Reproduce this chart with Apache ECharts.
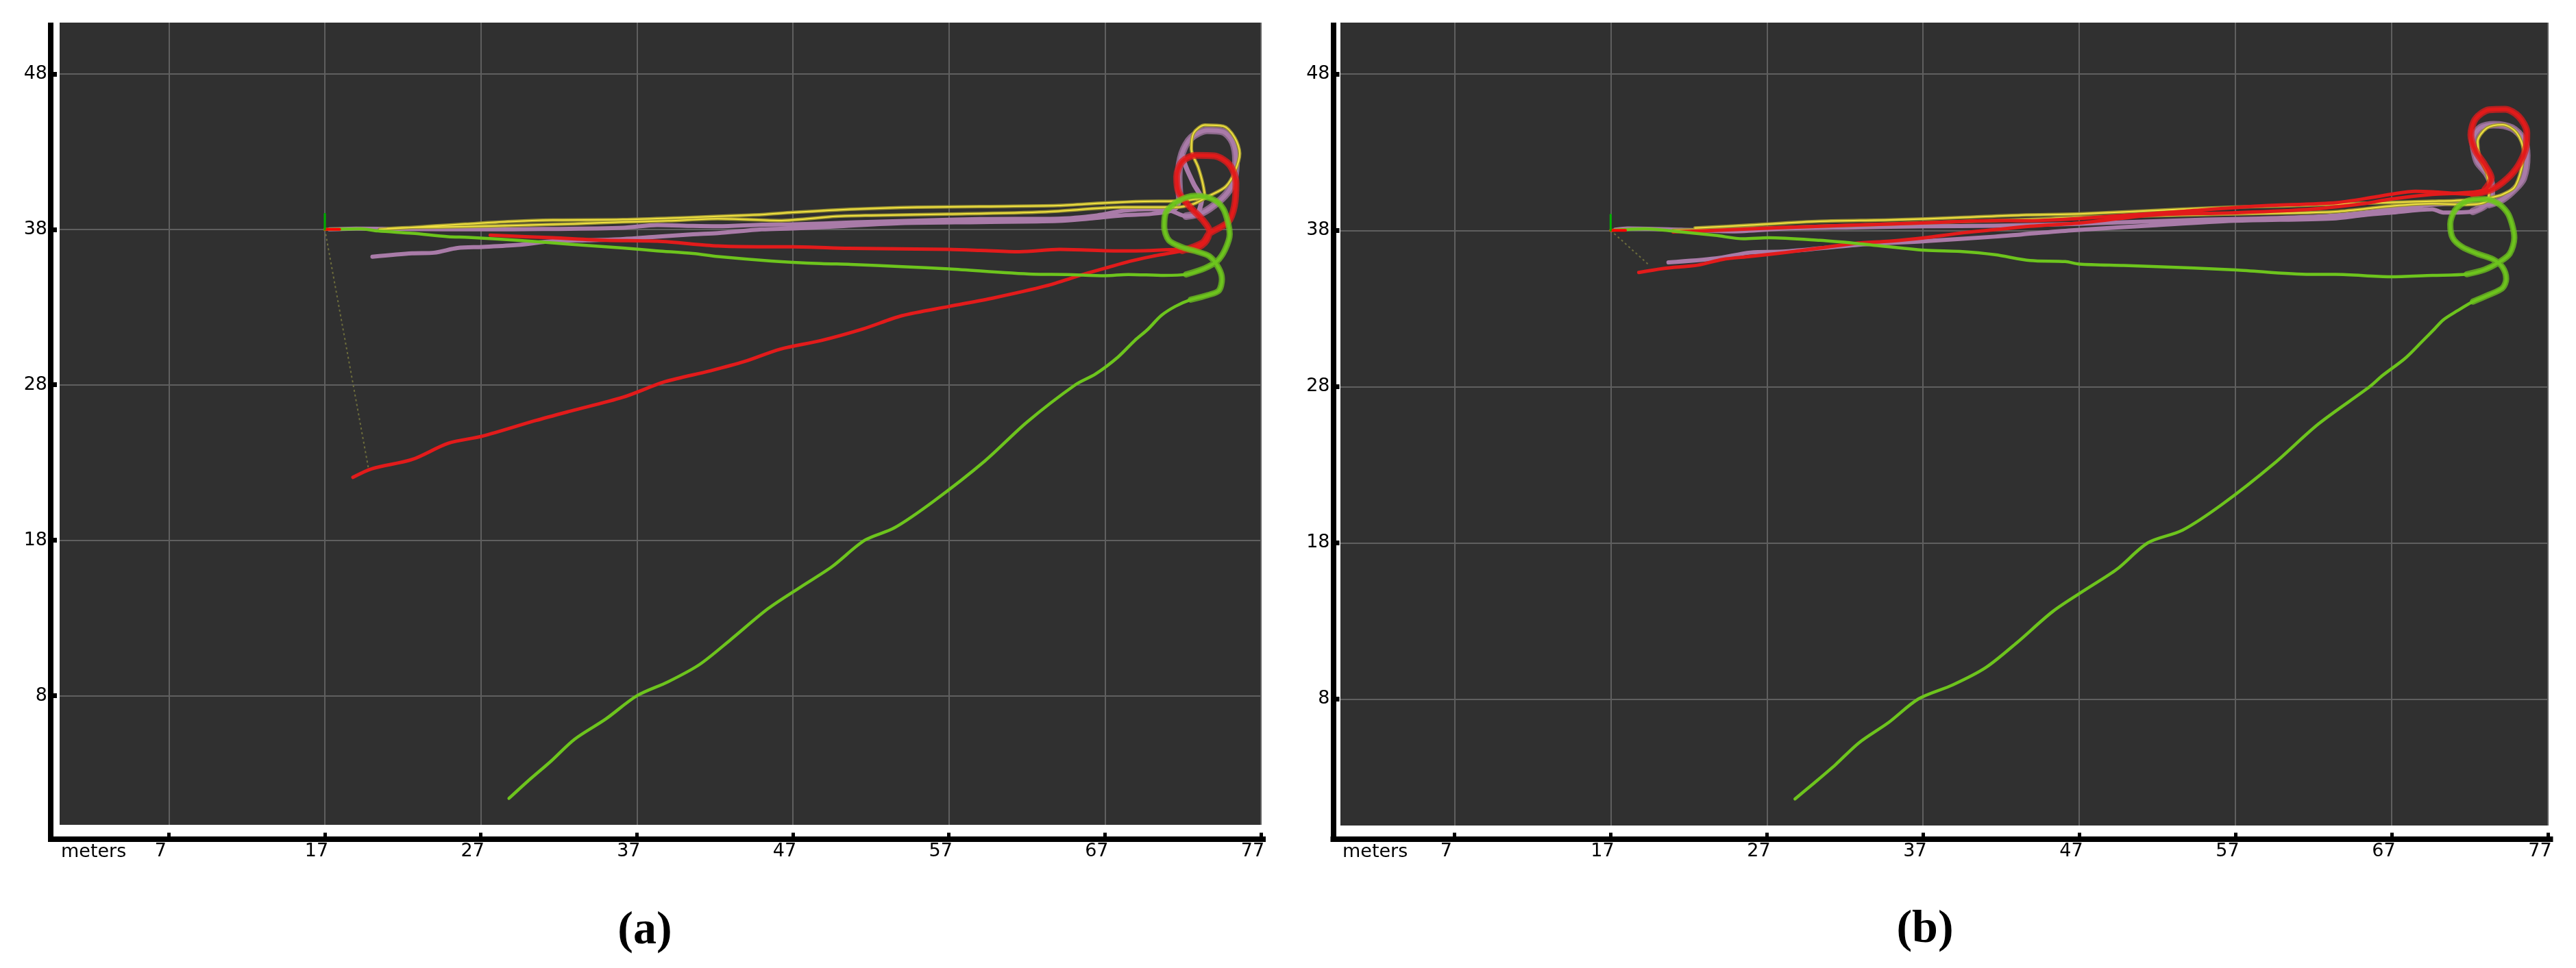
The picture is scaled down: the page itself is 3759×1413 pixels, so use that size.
<!DOCTYPE html>
<html>
<head>
<meta charset="utf-8">
<title>trajectories</title>
<script src="https://cdn.jsdelivr.net/npm/echarts@6.0.0/dist/echarts.min.js"></script>
<style>
  html, body { margin: 0; padding: 0; background: #fff; }
  #chart { width: 3759px; height: 1413px; }
</style>
</head>
<body>
<div id="chart"></div>
<script>
// tick values of both panels (meters)
const xTicks = [7, 17, 27, 37, 47, 57, 67, 77];
const yTicks = [8, 18, 28, 38, 48];

// ---- panel (a) paths, [x, y] in meters ----
const aYellow = [
  [20.5, 38.0], [22.2, 38.1], [24.0, 38.22], [26.0, 38.34], [28.7, 38.5], [31.6, 38.6], [36.1, 38.63],
  [40.6, 38.78], [42.2, 38.84], [45.0, 38.95], [47.0, 39.09], [51.0, 39.3], [55.0, 39.42], [59.0, 39.47],
  [64.0, 39.53], [67.0, 39.7], [69.5, 39.8], [71.5, 39.82], [72.8, 39.95], [73.4, 40.1],
  [73.27, 40.97], [72.98, 41.99], [72.54, 43.17], [72.69, 44.2], [73.42, 44.71], [74.59, 44.64],
  [75.32, 43.9], [75.64, 42.88], [75.32, 41.7], [74.74, 40.75], [73.7, 40.16], [72.69, 39.64], [71.5, 39.42],
  [68.2, 39.42], [63.2, 39.13], [57.0, 38.98], [52.0, 38.9], [49.8, 38.84], [46.1, 38.57], [42.2, 38.69],
  [39.0, 38.55], [36.1, 38.48], [33.0, 38.36], [29.35, 38.26], [26.0, 38.18], [22.6, 38.12], [21.0, 38.05]
];
const aPurple = [
  [17.3, 38.0], [19.0, 38.05], [22.0, 38.02], [27.1, 38.0], [31.0, 38.02], [36.1, 38.1], [38.3, 38.28],
  [40.6, 38.22], [42.2, 38.2], [45.0, 38.3], [47.0, 38.32], [51.0, 38.45], [55.0, 38.57], [59.0, 38.66],
  [64.0, 38.69], [66.5, 38.9], [68.2, 39.2], [70.0, 39.3], [71.2, 39.2], [72.2, 38.85],
  [73.3, 39.1], [74.3, 39.8], [74.95, 40.5], [75.3, 41.3], [75.4, 42.43], [75.2, 43.6], [74.6, 44.27],
  [73.56, 44.37], [72.54, 43.9], [71.95, 42.9], [71.73, 41.4], [71.8, 40.0], [71.5, 39.3],
  [70.0, 39.0], [68.2, 38.91], [66.0, 38.7], [64.0, 38.54], [59.0, 38.47], [53.9, 38.4], [50.0, 38.2],
  [47.0, 38.06], [45.0, 38.0], [42.2, 37.76], [40.6, 37.68], [38.3, 37.53], [36.1, 37.38], [33.8, 37.3],
  [31.6, 37.24], [29.35, 37.0], [27.1, 36.87], [25.5, 36.8], [24.0, 36.5], [22.6, 36.46], [20.05, 36.24]
];
const aPurpleCross = [[71.95, 42.8], [72.2, 42.0], [72.7, 40.9], [73.2, 39.9], [73.0, 39.1]];
const aRed = [
  [18.8, 22.05], [20.0, 22.6], [22.6, 23.2], [24.9, 24.24], [27.1, 24.7], [30.5, 25.7], [32.7, 26.3],
  [36.1, 27.2], [38.8, 28.2], [41.7, 28.9], [43.9, 29.5], [46.2, 30.3], [48.8, 30.85], [51.5, 31.6],
  [54.0, 32.45], [57.0, 33.04], [59.9, 33.6], [63.2, 34.36], [65.6, 35.1], [67.1, 35.53], [68.6, 35.95],
  [70.05, 36.27], [71.95, 36.63], [73.27, 37.15], [73.7, 37.74],
  [74.9, 38.47], [75.3, 39.5], [75.4, 40.97], [75.0, 42.14], [74.0, 42.73], [72.83, 42.76], [71.95, 42.36],
  [71.6, 41.4], [71.73, 40.38], [72.4, 39.5], [73.27, 38.6], [73.7, 37.88], [73.4, 37.15], [72.54, 36.7], [71.66, 36.7],
  [69.0, 36.62], [67.0, 36.63], [64.1, 36.71], [61.5, 36.56], [59.0, 36.65], [57.0, 36.71], [50.6, 36.78],
  [47.0, 36.88], [44.7, 36.88], [42.2, 36.93], [38.3, 37.24], [35.0, 37.3], [31.6, 37.46], [27.6, 37.63]
];
const aGreen = [
  [17.0, 38.0], [19.3, 38.04], [20.4, 37.9], [22.6, 37.75], [24.9, 37.53], [26.2, 37.49], [29.35, 37.3],
  [32.7, 37.05], [36.1, 36.8], [38.3, 36.62], [40.6, 36.45], [42.2, 36.25], [45.6, 35.97], [48.8, 35.8],
  [50.7, 35.75], [54.0, 35.6], [57.0, 35.46], [62.4, 35.12], [64.5, 35.1], [67.0, 35.02], [68.5, 35.1],
  [70.8, 35.04], [72.2, 35.1], [73.4, 35.5], [74.2, 35.97], [74.7, 36.7], [75.0, 37.7], [74.9, 38.4],
  [74.6, 39.3], [74.0, 39.9], [72.8, 40.16], [71.66, 39.8], [70.9, 39.06], [70.8, 38.18], [71.1, 37.3],
  [71.95, 36.85], [72.8, 36.6], [73.7, 36.27], [74.3, 35.5], [74.5, 34.8], [74.3, 34.06], [73.6, 33.77],
  [72.5, 33.48], [71.5, 33.04], [70.6, 32.45], [69.75, 31.57], [68.9, 30.84], [67.85, 29.8], [66.4, 28.7],
  [65.1, 28.0], [62.0, 25.6], [59.3, 23.1], [56.0, 20.5], [53.5, 18.8], [51.6, 18.0], [49.5, 16.3],
  [47.5, 15.0], [45.4, 13.6], [43.0, 11.6], [41.0, 10.0], [39.0, 8.9], [37.0, 8.0], [35.0, 6.5],
  [33.0, 5.2], [31.5, 3.8], [30.0, 2.5], [28.8, 1.4]
];
const aLink = [[17.0, 38.0], [19.8, 22.6]];

// ---- panel (b) paths ----
const bYellow = [
  [22.4, 38.15], [25.95, 38.34], [30.4, 38.58], [34.9, 38.67], [39.37, 38.82], [43.3, 38.98], [47.0, 39.05],
  [53.4, 39.35], [57.0, 39.49], [60.1, 39.56], [64.3, 39.71], [69.6, 39.86], [71.0, 39.9], [72.8, 40.0], [73.8, 40.2],
  [74.1, 40.3], [74.85, 40.75], [75.3, 41.92], [75.43, 43.09], [74.99, 44.26], [74.1, 44.77], [73.09, 44.55],
  [72.5, 43.67], [72.65, 42.65], [73.09, 41.63], [73.24, 40.6], [73.09, 39.87],
  [71.8, 39.65], [69.6, 39.71], [67.0, 39.56], [63.4, 39.2], [57.0, 39.05], [47.0, 38.83], [43.85, 38.7],
  [39.37, 38.56], [34.9, 38.41], [30.4, 38.26], [25.95, 38.12], [21.0, 38.0]
];
const bPurple = [
  [17.3, 38.05], [18.1, 38.12], [21.5, 38.04], [24.8, 37.94], [28.2, 38.12], [32.66, 38.19], [37.13, 38.26],
  [41.6, 38.3], [46.1, 38.4], [48.4, 38.47], [55.1, 38.69], [58.5, 38.76], [62.6, 38.9], [65.2, 39.13],
  [66.9, 39.35], [69.6, 39.64], [71.5, 39.7],
  [73.24, 39.65], [74.12, 40.0], [74.85, 40.6], [75.43, 41.33], [75.65, 42.8], [75.43, 43.82], [74.7, 44.55],
  [73.53, 44.77], [72.65, 44.55], [72.2, 43.82], [72.29, 43.09], [72.5, 42.36], [73.09, 41.63], [73.38, 40.9],
  [73.38, 40.16], [72.95, 39.58], [72.2, 39.21],
  [70.3, 39.14], [69.6, 39.35], [66.9, 39.13], [65.2, 38.98], [63.2, 38.76], [56.9, 38.61], [51.7, 38.32],
  [46.5, 38.0], [43.3, 37.74], [41.6, 37.6], [37.13, 37.31], [32.66, 37.06], [28.2, 36.65], [25.95, 36.58],
  [23.7, 36.2], [20.7, 35.95]
];
const bRed = [
  [18.8, 35.3], [20.36, 35.56], [22.6, 35.78], [24.16, 36.14], [25.95, 36.33], [28.2, 36.58], [30.4, 36.87],
  [32.66, 37.17], [34.9, 37.31], [37.13, 37.53], [39.37, 37.82], [41.6, 38.04], [43.85, 38.26], [47.0, 38.47],
  [51.7, 38.98], [57.0, 39.13], [61.8, 39.35], [65.2, 39.71], [66.9, 40.0], [69.6, 40.3], [71.5, 40.4],
  [72.95, 40.6], [73.38, 41.33], [72.95, 42.21], [72.36, 43.09], [72.07, 44.11], [72.36, 45.13], [73.24, 45.72],
  [74.26, 45.75], [75.14, 45.28], [75.65, 44.26], [75.58, 43.23], [75.14, 42.21], [74.41, 41.33], [73.38, 40.6],
  [72.2, 40.31],
  [69.6, 40.47], [68.5, 40.5], [66.9, 40.3], [66.0, 40.15], [63.5, 39.78], [58.5, 39.56], [53.4, 39.2],
  [47.0, 38.76], [43.3, 38.61], [41.6, 38.63], [37.13, 38.48], [32.66, 38.34], [28.2, 38.19], [24.8, 38.04], [21.0, 37.9]
];
const bGreen = [
  [17.0, 38.0], [19.2, 38.1], [21.5, 37.9], [23.7, 37.68], [25.5, 37.46], [27.1, 37.53], [30.4, 37.36],
  [32.66, 37.17], [37.13, 36.73], [39.37, 36.65], [41.6, 36.44], [43.85, 36.07], [46.1, 36.0], [47.0, 35.84],
  [49.84, 35.75], [51.7, 35.69], [57.0, 35.47], [61.8, 35.18], [63.4, 35.18], [66.9, 35.03], [69.6, 35.12],
  [71.8, 35.19], [72.95, 35.49], [73.8, 35.92], [74.55, 36.5], [74.85, 37.53], [74.7, 38.4], [74.4, 39.14],
  [73.8, 39.73], [72.95, 40.0], [71.8, 39.87], [71.05, 39.29], [70.75, 38.41], [70.9, 37.53], [71.5, 36.95],
  [72.5, 36.5], [73.5, 36.14], [74.1, 35.63], [74.33, 34.9], [74.1, 34.32], [73.24, 33.88], [72.2, 33.44],
  [71.2, 32.85], [70.3, 32.27], [69.73, 31.68], [68.9, 30.84], [67.85, 29.8], [66.4, 28.7], [65.6, 28.0],
  [62.3, 25.6], [59.5, 23.1], [56.2, 20.5], [53.6, 18.8], [51.4, 18.0], [49.4, 16.3], [47.4, 15.0],
  [45.3, 13.6], [43.0, 11.6], [41.0, 10.0], [38.9, 8.9], [36.7, 8.0], [34.8, 6.5], [32.9, 5.2],
  [31.4, 3.8], [30.0, 2.6], [28.8, 1.6]
];
const bLink = [[17.0, 38.0], [19.46, 35.78]];

// start frame marker (1 m axes at the origin)
const frameX = [[17.0, 38.0], [17.95, 38.0]];
const frameY = [[17.0, 38.0], [17.0, 39.0]];

const FONT = 'DejaVu Sans';
const LOOP_FROM = 71.5; // past this x the pose arrows pile up into thick bands

// dark plotting area axes: only grid lines
function darkAxis(min, max, grid, ticks) {
  return {
    type: 'value', gridIndex: grid, min: min, max: max,
    axisLine: { show: false },
    axisTick: { show: false, customValues: ticks },
    axisLabel: { show: false, customValues: ticks },
    splitLine: { show: true, lineStyle: { color: '#5f5f5f', width: 2 } }
  };
}
// outer black frame with ticks and labels
function frameAxis(min, max, grid, ticks, isX) {
  return {
    type: 'value', gridIndex: grid, min: min, max: max,
    position: isX ? 'bottom' : 'left',
    axisLine: { show: true, onZero: false, lineStyle: { color: '#000', width: 8, cap: isX ? 'square' : 'butt' } },
    axisTick: { show: true, inside: true, length: 9, customValues: ticks, lineStyle: { color: '#000', width: isX ? 5 : 7 } },
    axisLabel: {
      show: true, customValues: ticks, color: '#000', fontSize: 27, fontFamily: FONT,
      margin: 5,
      padding: isX ? [0, 24, 0, 0] : [0, 0, 6, 0]
    },
    splitLine: { show: false }
  };
}

function path(data, color, width, axis, z, extra) {
  return Object.assign({
    type: 'line', data: data, xAxisIndex: axis, yAxisIndex: axis,
    showSymbol: false, symbol: 'none', smooth: 0.3, silent: true, z: z,
    lineStyle: { color: color, width: width, cap: 'round', join: 'round' }
  }, extra || {});
}

// contiguous part of a path that sits in the loop area
function loopPart(data) {
  let first = -1, last = -1;
  data.forEach(function (p, i) {
    if (p[0] > LOOP_FROM) { if (first < 0) first = i; last = i; }
  });
  return first < 0 ? [] : data.slice(first, last + 1);
}

function band(data, color, width, axis, z) {
  return path(loopPart(data), color, width, axis, z, {
    lineStyle: { color: color, width: width, opacity: 0.75, cap: 'round', join: 'round' }
  });
}

function panelSeries(ax, yellow, purple, purpleCross, red, green, link) {
  const list = [
    path(link, '#6d6d3c', 2, ax, 2, { smooth: false, lineStyle: { color: '#6d6d3c', width: 2, type: [3, 4] } }),
    path(purple, '#a97ba8', 6, ax, 3),
    band(purple, '#a97ba8', 11, ax, 3),
    path(yellow, '#9c9432', 5, ax, 4),
    path(yellow, '#f0e040', 2, ax, 5),
    path(red, '#e21b1b', 5, ax, 6),
    band(red, '#e21b1b', 10, ax, 6),
    path(green, '#6dc41d', 4.5, ax, 7),
    band(green, '#6dc41d', 9, ax, 7),
    path(frameX, '#ff0000', 4, ax, 9, { smooth: false }),
    path(frameY, '#00b000', 3, ax, 9, { smooth: false })
  ];
  if (purpleCross) list.push(path(purpleCross, '#a97ba8', 7, ax, 3));
  return list;
}

const chart = echarts.init(document.getElementById('chart'));
chart.setOption({
  animation: false,
  backgroundColor: '#ffffff',
  grid: [
    { left: 87, top: 33, width: 1753, height: 1171, show: true, backgroundColor: '#303030', borderWidth: 0, outerBoundsMode: 'none' },
    { left: 74, top: 33, width: 1769, height: 1191.5, show: false, outerBoundsMode: 'none' },
    { left: 1956, top: 33, width: 1762, height: 1172, show: true, backgroundColor: '#303030', borderWidth: 0, outerBoundsMode: 'none' },
    { left: 1945.5, top: 33, width: 1776, height: 1191.5, show: false, outerBoundsMode: 'none' }
  ],
  xAxis: [
    darkAxis(0, 77, 0, xTicks),
    frameAxis(-0.57, 77.13, 1, xTicks, true),
    darkAxis(-0.3, 77, 2, xTicks),
    frameAxis(-0.76, 77.13, 3, xTicks, true)
  ],
  yAxis: [
    darkAxis(-0.3, 51.3, 0, yTicks),
    frameAxis(-1.21, 51.3, 1, yTicks, false),
    darkAxis(-0.1, 51.3, 2, yTicks),
    frameAxis(-0.96, 51.3, 3, yTicks, false)
  ],
  series: [].concat(
    panelSeries(0, aYellow, aPurple, aPurpleCross, aRed, aGreen, aLink),
    panelSeries(2, bYellow, bPurple, null, bRed, bGreen, bLink)
  ),
  graphic: [
    { type: 'text', x: 89, y: 1244, style: { text: 'meters', fill: '#000', font: '27px "DejaVu Sans"', verticalAlign: 'middle' } },
    { type: 'text', x: 1959, y: 1244, style: { text: 'meters', fill: '#000', font: '27px "DejaVu Sans"', verticalAlign: 'middle' } },
    { type: 'text', x: 941, y: 1359, style: { text: '(a)', fill: '#000', font: 'bold 68px "Liberation Serif"', align: 'center', verticalAlign: 'middle' } },
    { type: 'text', x: 2809, y: 1357, style: { text: '(b)', fill: '#000', font: 'bold 68px "Liberation Serif"', align: 'center', verticalAlign: 'middle' } }
  ]
});
</script>
</body>
</html>
